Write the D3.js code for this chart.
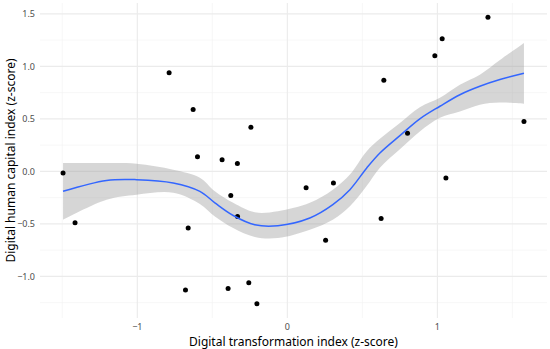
<!DOCTYPE html>
<html>
<head>
<meta charset="utf-8">
<script src="https://cdn.jsdelivr.net/npm/d3@7"></script>
<style>
  body { margin: 0; background: #fff; }
  svg { display: block; font-family: "Noto Sans", "Open Sans", sans-serif; }
</style>
</head>
<body>
<div class="container"></div>
<script>
// scatter points (z-scores)
let pointX = [-1.495, -1.415, -0.788, -0.628, -0.599, -0.435, -0.333, -0.243, -0.377, -0.332,
  -0.661, -0.679, -0.395, -0.257, -0.203, 0.125, 0.307, 0.255, 0.625, 0.643,
  0.801, 0.983, 1.032, 1.057, 1.337, 1.577];
let pointY = [-0.015, -0.49, 0.94, 0.59, 0.14, 0.11, 0.075, 0.42, -0.23, -0.43,
  -0.54, -1.13, -1.115, -1.06, -1.26, -0.155, -0.11, -0.655, -0.45, 0.867,
  0.362, 1.10, 1.264, -0.063, 1.467, 0.474];

// loess fit and its confidence band
let smoothX = [-1.495, -1.205, -1.005, -0.761, -0.583, -0.483, -0.361, -0.217, -0.063, 0.15,
  0.303, 0.417, 0.528, 0.617, 0.75, 0.883, 1.017, 1.15, 1.283, 1.417, 1.577];
let smoothFit = [-0.19, -0.086, -0.079, -0.11, -0.19, -0.30, -0.42, -0.508, -0.517, -0.444,
  -0.317, -0.174, 0.03, 0.175, 0.34, 0.50, 0.62, 0.73, 0.81, 0.874, 0.934];
let smoothLow = [-0.46, -0.27, -0.222, -0.203, -0.31, -0.43, -0.54, -0.625, -0.635, -0.555,
  -0.46, -0.333, -0.14, 0.035, 0.21, 0.38, 0.51, 0.57, 0.635, 0.655, 0.645];
let smoothHigh = [0.08, 0.08, 0.073, 0.016, -0.06, -0.19, -0.30, -0.39, -0.38, -0.30,
  -0.175, -0.03, 0.19, 0.31, 0.46, 0.61, 0.70, 0.825, 0.92, 1.06, 1.223];

let xMajor = [-1, 0, 1];
let xMinor = [-1.5, -0.5, 0.5, 1.5];
let yMajor = [-1, -0.5, 0, 0.5, 1, 1.5];
let yMinor = [-1.25, -0.75, -0.25, 0.25, 0.75, 1.25];

let width = 550, height = 349;
let panel = { left: 40, right: 547, top: 3, bottom: 318 };

let svg = d3.select(".container")
  .append("svg")
  .attr("width", width)
  .attr("height", height);

// ggplot style 5% expansion around the data
let expand = (ext) => {
  let pad = (ext[1] - ext[0]) * 0.05;
  return [ext[0] - pad, ext[1] + pad];
};

let x = d3.scaleLinear().domain(expand(d3.extent(pointX))).range([panel.left, panel.right]);
let y = d3.scaleLinear().domain(expand(d3.extent(pointY))).range([panel.bottom, panel.top]);

let fmtY = (d) => d3.format(".1f")(d).replace("-", "\u2212");
let fmtX = (d) => String(d).replace("-", "\u2212");

// grid
let grid = svg.append("g");
grid.selectAll(".xminor").data(xMinor).enter().append("line")
  .attr("x1", (d) => x(d)).attr("x2", (d) => x(d))
  .attr("y1", panel.top).attr("y2", panel.bottom)
  .attr("stroke", "#f2f2f2").attr("stroke-width", 0.6);
grid.selectAll(".yminor").data(yMinor).enter().append("line")
  .attr("y1", (d) => y(d)).attr("y2", (d) => y(d))
  .attr("x1", panel.left).attr("x2", panel.right)
  .attr("stroke", "#f2f2f2").attr("stroke-width", 0.6);
grid.selectAll(".xmajor").data(xMajor).enter().append("line")
  .attr("x1", (d) => x(d)).attr("x2", (d) => x(d))
  .attr("y1", panel.top).attr("y2", panel.bottom)
  .attr("stroke", "#ebebeb").attr("stroke-width", 1.1);
grid.selectAll(".ymajor").data(yMajor).enter().append("line")
  .attr("y1", (d) => y(d)).attr("y2", (d) => y(d))
  .attr("x1", panel.left).attr("x2", panel.right)
  .attr("stroke", "#ebebeb").attr("stroke-width", 1.1);

// axis labels
svg.append("g").selectAll("text").data(yMajor).enter().append("text")
  .attr("x", 35).attr("y", (d) => y(d))
  .attr("dy", "0.35em")
  .attr("text-anchor", "end")
  .attr("font-size", 9)
  .attr("fill", "#4d4d4d")
  .text(fmtY);

svg.append("g").selectAll("text").data(xMajor).enter().append("text")
  .attr("x", (d) => x(d)).attr("y", 330)
  .attr("text-anchor", "middle")
  .attr("font-size", 9)
  .attr("fill", "#4d4d4d")
  .text(fmtX);

svg.append("text")
  .attr("x", (panel.left + panel.right) / 2).attr("y", 346)
  .attr("text-anchor", "middle")
  .attr("font-size", 12)
  .attr("fill", "#000")
  .text("Digital transformation index (z-score)");

svg.append("text")
  .attr("transform", `translate(15,${(panel.top + panel.bottom) / 2}) rotate(-90)`)
  .attr("text-anchor", "middle")
  .attr("font-size", 12)
  .attr("fill", "#000")
  .text("Digital human capital index (z-score)");

// smooth band + line
let band = smoothX.map((d, i) => ({ x: d, lo: smoothLow[i], hi: smoothHigh[i], fit: smoothFit[i] }));

svg.append("path")
  .datum(band)
  .attr("d", d3.area().curve(d3.curveCatmullRom)
    .x((d) => x(d.x)).y0((d) => y(d.lo)).y1((d) => y(d.hi)))
  .attr("fill", "#999999")
  .attr("fill-opacity", 0.4);

// points
svg.append("g").selectAll("circle")
  .data(pointX.map((d, i) => ({ x: d, y: pointY[i] })))
  .enter()
  .append("circle")
  .attr("cx", (d) => x(d.x))
  .attr("cy", (d) => y(d.y))
  .attr("r", 2.5)
  .attr("fill", "#000");

svg.append("path")
  .datum(band)
  .attr("d", d3.line().curve(d3.curveCatmullRom)
    .x((d) => x(d.x)).y((d) => y(d.fit)))
  .attr("fill", "none")
  .attr("stroke", "#3366FF")
  .attr("stroke-width", 1.5);
</script>
</body>
</html>
